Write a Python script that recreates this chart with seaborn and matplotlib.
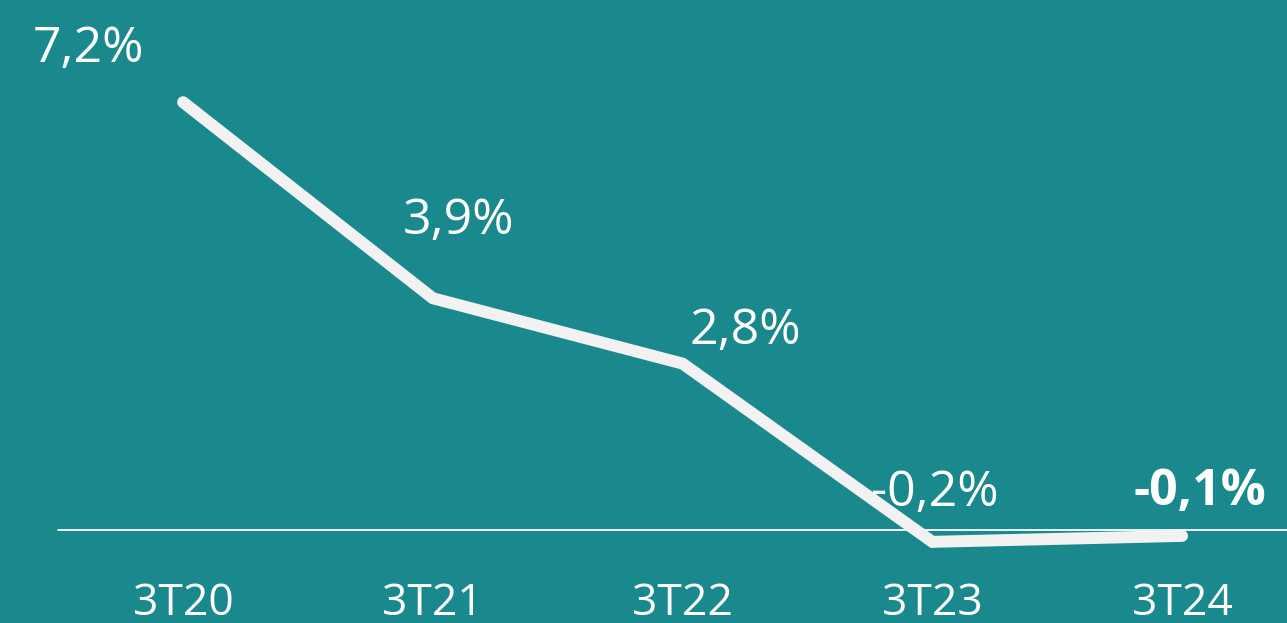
import numpy as np
import pandas as pd
import seaborn as sns
import matplotlib.pyplot as plt

# data
quarters = ["3T20", "3T21", "3T22", "3T23", "3T24"]
values = [7.2, 3.9, 2.8, -0.2, -0.1]
labels = ["7,2%", "3,9%", "2,8%", "-0,2%", "-0,1%"]

bg = "#1a898e"
sns.set_style("white")
plt.rcParams["font.family"] = ["Open Sans", "DejaVu Sans"]

df = pd.DataFrame({"x": np.arange(len(quarters)), "v": values})

fig = plt.figure(figsize=(12.87, 6.23), dpi=100, facecolor=bg)
ax = fig.add_axes([0, 48 / 623, 1, 1 - 48 / 623])
ax.set_facecolor(bg)

sns.lineplot(data=df, x="x", y="v", ax=ax, color="#f2f2f2", linewidth=8.6,
             solid_capstyle="round", solid_joinstyle="miter")

ax.set_xlim(-0.733, 4.42)
ax.set_ylim(-0.758, 8.92)
ax.axhline(0, xmin=(-0.5 + 0.733) / (4.42 + 0.733), xmax=1, color="white", lw=1.3, zorder=1)

# label offsets in pixels (dx, dy to baseline)
offsets = [(-95, 40), (26, 64), (63, 20), (2, 36), (18, 31)]
for i, (lab, (dx, dy)) in enumerate(zip(labels, offsets)):
    ax.annotate(lab, (i, values[i]), xytext=(dx, dy), textcoords="offset pixels",
                ha="center", va="baseline", color="white", fontsize=36,
                fontweight="bold" if i == len(labels) - 1 else "normal")

ax.set_xticks(range(len(quarters)))
ax.set_xticklabels(quarters, color="white", fontsize=32)
ax.tick_params(axis="x", length=0, pad=5)
ax.set_yticks([])
ax.set_xlabel("")
ax.set_ylabel("")
sns.despine(ax=ax, left=True, bottom=True)

fig.savefig("out.png", dpi=100, facecolor=bg)
